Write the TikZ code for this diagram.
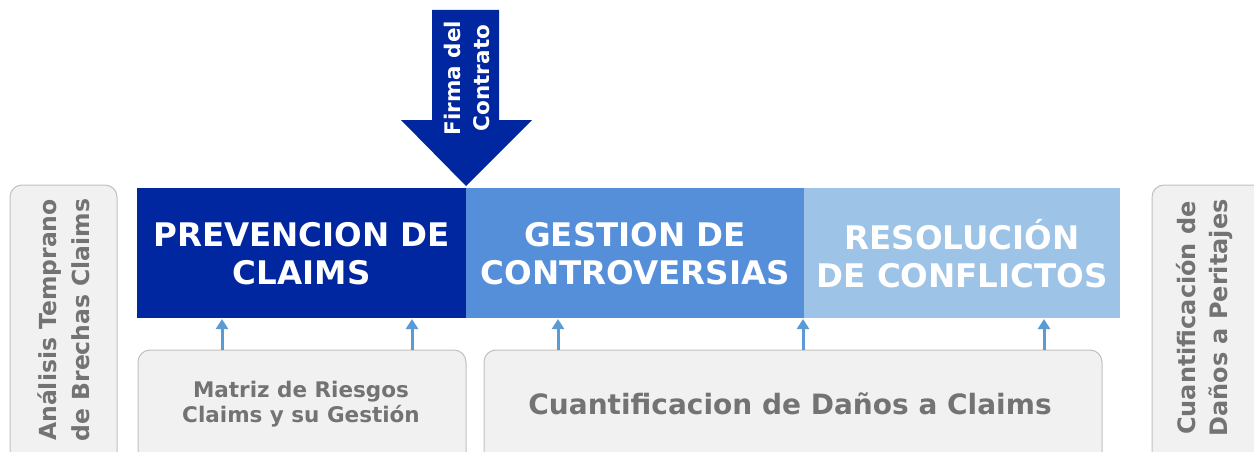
\documentclass[tikz,border=0pt]{standalone}
\usepackage{fontspec}
\setmainfont{DejaVu Sans}
\usetikzlibrary{arrows.meta}
\definecolor{cdark}{HTML}{0026A0}
\definecolor{cmid}{HTML}{558ED9}
\definecolor{clight}{HTML}{9DC3E6}
\definecolor{carrow}{HTML}{5B9BD5}
\definecolor{cgraytxt}{HTML}{737373}
\definecolor{cboxfill}{HTML}{F1F1F1}
\definecolor{cboxdraw}{HTML}{C0C0C0}
\tikzset{
  phase/.style={draw=none, minimum height=130pt, inner sep=0pt, text=white, font=\bfseries\fontsize{32.5}{38}\selectfont, align=center, anchor=north west},
  graybox/.style={draw=cboxdraw, fill=cboxfill, rounded corners=12pt, line width=1pt},
  graytxt/.style={text=cgraytxt, font=\bfseries, align=center},
  uparrow/.style={draw=carrow, line width=3pt, -{Triangle[length=10pt,width=12pt]}},
}
\begin{document}
\begin{tikzpicture}[x=1pt,y=-1pt]
\useasboundingbox (0,0) rectangle (1254,452);
\clip (0,0) rectangle (1254,452);
% side boxes
\draw[graybox] (10,185) rectangle (117,480);
\node[graytxt, rotate=90, font=\bfseries\fontsize{23.5}{33}\selectfont] (left) at (64,320) {Análisis Temprano\\de Brechas Claims};
\draw[graybox] (1152,185) rectangle (1300,480);
\node[graytxt, rotate=90, font=\bfseries\fontsize{24}{32}\selectfont] (right) at (1204,318) {Cuantificación de\\Daños a Peritajes};
% phases
\node[phase, fill=cdark, minimum width=329pt] (p1) at (137,188) {PREVENCION DE\\CLAIMS};
\node[phase, fill=cmid, minimum width=338pt] (p2) at (466,188) {GESTION DE\\CONTROVERSIAS};
\node[phase, fill=clight, minimum width=316pt] (p3) at (804,188) {RESOLUCIÓN\\DE CONFLICTOS};
% big arrow
\fill[cdark] (432,10) -- (499,10) -- (499,120) -- (532,120) -- (466,186) -- (401,120) -- (432,120) -- cycle;
\node[rotate=90, text=white, font=\bfseries\fontsize{21.5}{29}\selectfont, align=center] (firma) at (467,78) {Firma del\\Contrato};
% bottom boxes
\draw[graybox] (138,350) rectangle (466,480);
\node[graytxt, font=\bfseries\fontsize{21.5}{25}\selectfont] (b1) at (301,404) {Matriz de Riesgos\\Claims y su Gestión};
\draw[graybox] (484,350) rectangle (1102,480);
\node[graytxt, font=\bfseries\fontsize{28}{32}\selectfont] (b2) at (790,404) {Cuantificacion de Daños a Claims};
% coordinates for arrows
\coordinate (a1s) at (222,350); \coordinate (a1e) at (222,319);
\coordinate (a2s) at (412,350); \coordinate (a2e) at (412,319);
\coordinate (a3s) at (558,350); \coordinate (a3e) at (558,319);
\coordinate (a4s) at (803,350); \coordinate (a4e) at (803,319);
\coordinate (a5s) at (1044,350); \coordinate (a5e) at (1044,319);
\foreach \i in {1,...,5} {\draw[uparrow] (a\i s) -- (a\i e);}
\end{tikzpicture}
\end{document}
